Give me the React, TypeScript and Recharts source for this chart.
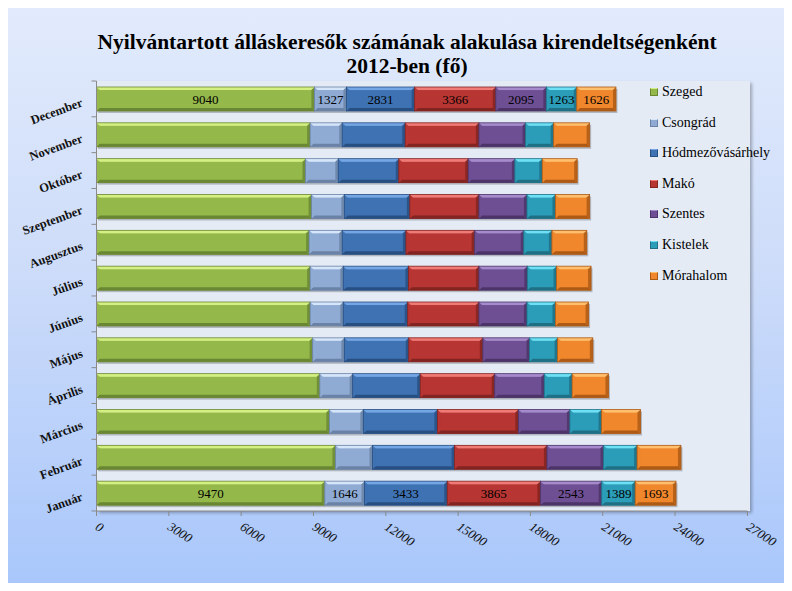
import React from 'react';
import { BarChart, Bar, XAxis, YAxis, LabelList } from 'recharts';

const months = ['Január', 'Február', 'Március', 'Április', 'Május', 'Június', 'Július', 'Augusztus', 'Szeptember', 'Október', 'November', 'December'];
const szeged = [9470, 9913, 9660, 9264, 8966, 8863, 8863, 8819, 8922, 8671, 8863, 9040];
const csongrad = [1646, 1536, 1409, 1362, 1315, 1373, 1373, 1373, 1359, 1359, 1329, 1327];
const hodmezovasarhely = [3433, 3405, 3072, 2803, 2673, 2673, 2703, 2644, 2717, 2510, 2614, 2831];
const mako = [3865, 3832, 3358, 3088, 3072, 2954, 2924, 2850, 2865, 2880, 3057, 3366];
const szentes = [2543, 2344, 2138, 2058, 1934, 1993, 2008, 2038, 1993, 1934, 1934, 2095];
const kistelek = [1389, 1394, 1314, 1156, 1167, 1182, 1211, 1167, 1182, 1137, 1167, 1263];
const morahalom = [1693, 1821, 1615, 1505, 1462, 1374, 1433, 1447, 1418, 1448, 1492, 1626];
const xTicks = [0, 3000, 6000, 9000, 12000, 15000, 18000, 21000, 24000, 27000];
const labelledMonths = ['Január', 'December'];

const seriesNames = ['Szeged', 'Csongrád', 'Hódmezővásárhely', 'Makó', 'Szentes', 'Kistelek', 'Mórahalom'];
const seriesValues = [szeged, csongrad, hodmezovasarhely, mako, szentes, kistelek, morahalom];
const palette = [
  { base: '#94b84a', light: '#d4f082', dark: '#6a8733' },
  { base: '#8fabd4', light: '#d6e6fa', dark: '#6a82a6' },
  { base: '#3e72b3', light: '#74a6e6', dark: '#284f82' },
  { base: '#b73532', light: '#f07a76', dark: '#822421' },
  { base: '#6f4f94', light: '#a68bcc', dark: '#4c3468' },
  { base: '#2c9db8', light: '#6ee0f5', dark: '#1f7085' },
  { base: '#f0872c', light: '#ffbf6c', dark: '#ad5a16' },
];

const data = months.map((m, i) => {
  const row: Record<string, any> = { month: m };
  seriesNames.forEach((n, s) => {
    row[n] = seriesValues[s][i];
  });
  return row;
});

const FONT = '"Liberation Serif", "Times New Roman", serif';

const BevelBar = (props: any) => {
  const { x, y, width, height, colorIdx } = props;
  if (!width || width <= 0) return null;
  const c = palette[colorIdx];
  const b = 3;
  const w = width;
  const h = height;
  return (
    <g>
      <rect x={x + 1.5} y={y + 2} width={w} height={h} fill="rgba(0,0,0,0.22)" />
      <rect x={x} y={y} width={w} height={h} fill={`url(#grad${colorIdx})`} />
      <polygon points={`${x},${y} ${x + w},${y} ${x + w - b},${y + b} ${x + b},${y + b}`} fill={c.light} />
      <polygon points={`${x},${y + h} ${x + w},${y + h} ${x + w - b},${y + h - b} ${x + b},${y + h - b}`} fill={c.dark} />
      <polygon points={`${x},${y} ${x + b},${y + b} ${x + b},${y + h - b} ${x},${y + h}`} fill={c.base} opacity={0.85} />
      <polygon points={`${x + w},${y} ${x + w - b},${y + b} ${x + w - b},${y + h - b} ${x + w},${y + h}`} fill={c.dark} opacity={0.85} />
      <rect x={x} y={y} width={w} height={h} fill="none" stroke={c.dark} strokeWidth={0.8} />
    </g>
  );
};

const YTick = (props: any) => {
  const { x, y, payload } = props;
  const half = 17.9;
  const tx = x - 13;
  const ty = y + 7;
  return (
    <g>
      <line x1={x - 5} x2={x} y1={y + half} y2={y + half} stroke="#8a8a8a" />
      {payload.value === 'December' && <line x1={x - 5} x2={x} y1={y - half} y2={y - half} stroke="#8a8a8a" />}
      <text
        x={tx}
        y={ty}
        textAnchor="end"
        transform={`rotate(-20, ${tx}, ${ty})`}
        fontFamily={FONT}
        fontWeight="bold"
        fontSize={12.5}
        fill="#111"
      >
        {payload.value}
      </text>
    </g>
  );
};

const XTick = (props: any) => {
  const { x, y, payload } = props;
  const tx = x - 2;
  const ty = y + 13;
  return (
    <text
      x={tx}
      y={ty}
      textAnchor="start"
      transform={`rotate(33, ${tx}, ${ty})`}
      fontFamily={FONT}
      fontStyle="italic"
      fontSize={13}
      fill="#111"
    >
      {payload.value}
    </text>
  );
};

const makeLabel = (props: any) => {
  const { x, y, width, height, value, index } = props;
  if (!labelledMonths.includes(months[index])) return null;
  return (
    <text
      x={x + width / 2}
      y={y + height / 2 + 4.5}
      textAnchor="middle"
      fontFamily={FONT}
      fontSize={13}
      fill="#000"
    >
      {value}
    </text>
  );
};

export default function App() {
  return (
    <div style={{ position: 'relative', width: 792, height: 591, margin: -8, background: '#ffffff', overflow: 'hidden' }}>
      <div
        style={{
          position: 'absolute',
          left: 6,
          top: 6,
          width: 780,
          height: 580,
          background: 'linear-gradient(to bottom, #e2ebfc 0%, #cddcf9 45%, #a9c7fb 100%)',
          boxShadow: '1px 1px 3px rgba(0,0,0,0.35)',
          border: '1px solid #c9d5ea',
          boxSizing: 'border-box',
        }}
      />
      <div
        style={{
          position: 'absolute',
          left: 96.5,
          top: 81,
          width: 653.5,
          height: 430,
          background: '#e4ebf5',
          boxShadow: '2px 2px 3px rgba(0,0,0,0.28)',
        }}
      />
      <div
        style={{
          position: 'absolute',
          left: 0,
          top: 30,
          width: 814,
          textAlign: 'center',
          fontFamily: FONT,
          fontWeight: 'bold',
          fontSize: 21.5,
          lineHeight: '24px',
          color: '#000',
        }}
      >
        Nyilvántartott álláskeresők számának alakulása kirendeltségenként
        <br />
        2012-ben (fő)
      </div>
      <div style={{ position: 'absolute', left: 0, top: 0 }}>
        <BarChart
          width={792}
          height={591}
          layout="vertical"
          data={data}
          margin={{ top: 81, right: 44.6, bottom: 40, left: 0 }}
          barSize={24}
        >
          <defs>
            {palette.map((c, i) => (
              <linearGradient key={i} id={`grad${i}`} x1="0" y1="0" x2="0" y2="1">
                <stop offset="0%" stopColor={c.light} stopOpacity={0.55} />
                <stop offset="15%" stopColor={c.base} />
                <stop offset="100%" stopColor={c.base} />
              </linearGradient>
            ))}
          </defs>
          <XAxis
            type="number"
            domain={[0, 27000]}
            ticks={xTicks}
            interval={0}
            height={40}
            tickSize={5}
            tickMargin={0}
            axisLine={{ stroke: '#8a8a8a' }}
            tickLine={{ stroke: '#8a8a8a' }}
            tick={<XTick />}
            allowDataOverflow
          />
          <YAxis
            type="category"
            dataKey="month"
            reversed
            interval={0}
            width={96.5}
            tickSize={0}
            tickMargin={0}
            axisLine={{ stroke: '#8a8a8a' }}
            tickLine={false}
            tick={<YTick />}
          />
          {seriesNames.map((n, i) => (
            <Bar
              key={n}
              dataKey={n}
              stackId="a"
              fill={palette[i].base}
              isAnimationActive={false}
              shape={(p: any) => <BevelBar {...p} colorIdx={i} />}
            >
              <LabelList dataKey={n} content={makeLabel} />
            </Bar>
          ))}
        </BarChart>
      </div>
      <div style={{ position: 'absolute', left: 650, top: 0, fontFamily: FONT, fontSize: 14, color: '#000' }}>
        {seriesNames.map((n, i) => (
          <div
            key={n}
            style={{ position: 'absolute', left: 0, top: 83 + i * 30.6, height: 18, display: 'flex', alignItems: 'center', whiteSpace: 'nowrap' }}
          >
            <div
              style={{
                width: 6,
                height: 6,
                background: palette[i].base,
                border: `1px solid ${palette[i].dark}`,
                borderTopColor: palette[i].light,
                marginRight: 4,
              }}
            />
            <span>{n}</span>
          </div>
        ))}
      </div>
    </div>
  );
}
